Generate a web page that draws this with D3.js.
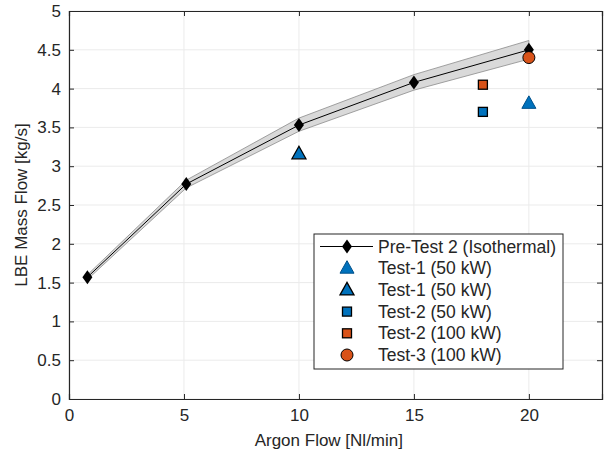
<!DOCTYPE html>
<html>
<head>
<meta charset="utf-8">
<script src="https://cdn.jsdelivr.net/npm/d3@7"></script>
<style>
  body { margin: 0; background: #fff; }
  text { font-family: "Liberation Sans", Arial, sans-serif; fill: #262626; }
</style>
</head>
<body>
<script>
// data
var preX = [0.8, 5.1, 10, 15, 20];
var preY = [1.57, 2.77, 3.53, 4.08, 4.50];
var preLo = [1.54, 2.72, 3.45, 3.98, 4.38];
var preHi = [1.60, 2.82, 3.62, 4.18, 4.62];

var test1aX = [20], test1aY = [3.81];
var test1bX = [10], test1bY = [3.16];
var test2aX = [18], test2aY = [3.70];
var test2bX = [18], test2bY = [4.05];
var test3X = [20], test3Y = [4.40];

var legendLabels = ["Pre-Test 2 (Isothermal)", "Test-1 (50 kW)", "Test-1 (50 kW)",
                    "Test-2 (50 kW)", "Test-2 (100 kW)", "Test-3 (100 kW)"];
var xTicks = [0, 5, 10, 15, 20];
var yTicks = [0, 0.5, 1, 1.5, 2, 2.5, 3, 3.5, 4, 4.5, 5];

var blue = "#0072BD", orange = "#D95319";

// layout
var margin = {top: 11, right: 3, bottom: 55, left: 69},
    W = 605, H = 454,
    width = W - margin.left - margin.right,
    height = H - margin.top - margin.bottom;

var x = d3.scaleLinear().domain([0, 23.18]).range([0, width]);
var y = d3.scaleLinear().domain([0, 5]).range([height, 0]);

var svg = d3.select("body").append("svg")
    .attr("width", W).attr("height", H);
var g = svg.append("g")
    .attr("transform", "translate(" + margin.left + "," + margin.top + ")");

// grid
g.selectAll(".gx").data(xTicks).enter().append("line")
    .attr("x1", function(d) { return x(d); }).attr("x2", function(d) { return x(d); })
    .attr("y1", 0).attr("y2", height)
    .attr("stroke", "#ebebeb").attr("stroke-width", 1);
g.selectAll(".gy").data(yTicks).enter().append("line")
    .attr("y1", function(d) { return y(d); }).attr("y2", function(d) { return y(d); })
    .attr("x1", 0).attr("x2", width)
    .attr("stroke", "#ebebeb").attr("stroke-width", 1);

// band
var pre = preX.map(function(d, i) { return {x: d, y: preY[i], lo: preLo[i], hi: preHi[i]}; });
var area = d3.area()
    .x(function(d) { return x(d.x); })
    .y0(function(d) { return y(d.lo); })
    .y1(function(d) { return y(d.hi); });
g.append("path").datum(pre)
    .attr("d", area)
    .attr("fill", "#d9d9d9")
    .attr("stroke", "#8c8c8c").attr("stroke-width", 0.8);

var line = d3.line()
    .x(function(d) { return x(d.x); })
    .y(function(d) { return y(d.y); });
g.append("path").datum(pre)
    .attr("d", line)
    .attr("fill", "none").attr("stroke", "#000").attr("stroke-width", 1);

// marker helpers
function diamond(sel) {
  return sel.append("path").attr("d", "M0,-7L5,0L0,7L-5,0Z").attr("fill", "#000");
}
function triangle(sel, edge) {
  return sel.append("path").attr("d", "M0,-7.5L7,5L-7,5Z")
    .attr("fill", blue).attr("stroke", edge).attr("stroke-width", edge === "#000" ? 1.3 : 1);
}
function square(sel, col) {
  return sel.append("rect").attr("x", -4.5).attr("y", -4.5).attr("width", 9).attr("height", 9)
    .attr("fill", col).attr("stroke", "#000").attr("stroke-width", 1.3);
}
function circle(sel, col) {
  return sel.append("circle").attr("r", 6).attr("fill", col)
    .attr("stroke", "#000").attr("stroke-width", 1);
}
function points(xs, ys, draw) {
  xs.forEach(function(d, i) {
    var p = g.append("g").attr("transform", "translate(" + x(d) + "," + y(ys[i]) + ")");
    draw(p);
  });
}

points(preX, preY, diamond);
points(test1aX, test1aY, function(p) { triangle(p, "#00508a"); });
points(test1bX, test1bY, function(p) { triangle(p, "#000"); });
points(test2aX, test2aY, function(p) { square(p, blue); });
points(test2bX, test2bY, function(p) { square(p, orange); });
points(test3X, test3Y, function(p) { circle(p, orange); });

// axes
var xAxis = g.append("g").attr("transform", "translate(0," + height + ")")
    .call(d3.axisBottom(x).tickValues(xTicks).tickSize(-5).tickPadding(10).tickFormat(d3.format("")));
var yAxis = g.append("g")
    .call(d3.axisLeft(y).tickValues(yTicks).tickSize(-5).tickPadding(8).tickFormat(d3.format("")));
var xTop = g.append("g")
    .call(d3.axisTop(x).tickValues(xTicks).tickSize(-5).tickFormat(""));
var yRight = g.append("g").attr("transform", "translate(" + width + ",0)")
    .call(d3.axisRight(y).tickValues(yTicks).tickSize(-5).tickFormat(""));
[xAxis, yAxis, xTop, yRight].forEach(function(a) {
  a.select(".domain").attr("stroke", "#262626").attr("stroke-width", 1.2);
  a.selectAll(".tick line").attr("stroke", "#262626");
  a.selectAll("text").style("font-size", "17px").attr("fill", "#262626")
    .style("font-family", "'Liberation Sans', Arial, sans-serif");
});

// axis labels
svg.append("text")
    .attr("x", margin.left + x(11.3)).attr("y", 446)
    .attr("text-anchor", "middle").style("font-size", "17px")
    .text("Argon Flow [Nl/min]");
svg.append("text")
    .attr("transform", "translate(27," + (margin.top + height / 2) + ") rotate(-90)")
    .attr("text-anchor", "middle").style("font-size", "17px")
    .text("LBE Mass Flow [kg/s]");

// legend
var lg = svg.append("g").attr("transform", "translate(314,234)");
lg.append("rect").attr("width", 249).attr("height", 135)
    .attr("fill", "#fff").attr("stroke", "#262626").attr("stroke-width", 1);
legendLabels.forEach(function(lab, i) {
  var row = lg.append("g").attr("transform", "translate(0," + (12.5 + i * 21.7) + ")");
  var m = row.append("g").attr("transform", "translate(33,0)");
  if (i === 0) {
    row.append("line").attr("x1", 6).attr("x2", 59).attr("stroke", "#000").attr("stroke-width", 1);
    diamond(m);
  } else if (i === 1) triangle(m, "#00508a");
  else if (i === 2) triangle(m, "#000");
  else if (i === 3) square(m, blue);
  else if (i === 4) square(m, orange);
  else circle(m, orange);
  row.append("text").attr("x", 64).attr("y", 6).style("font-size", "17.5px").text(lab);
});
</script>
</body>
</html>
